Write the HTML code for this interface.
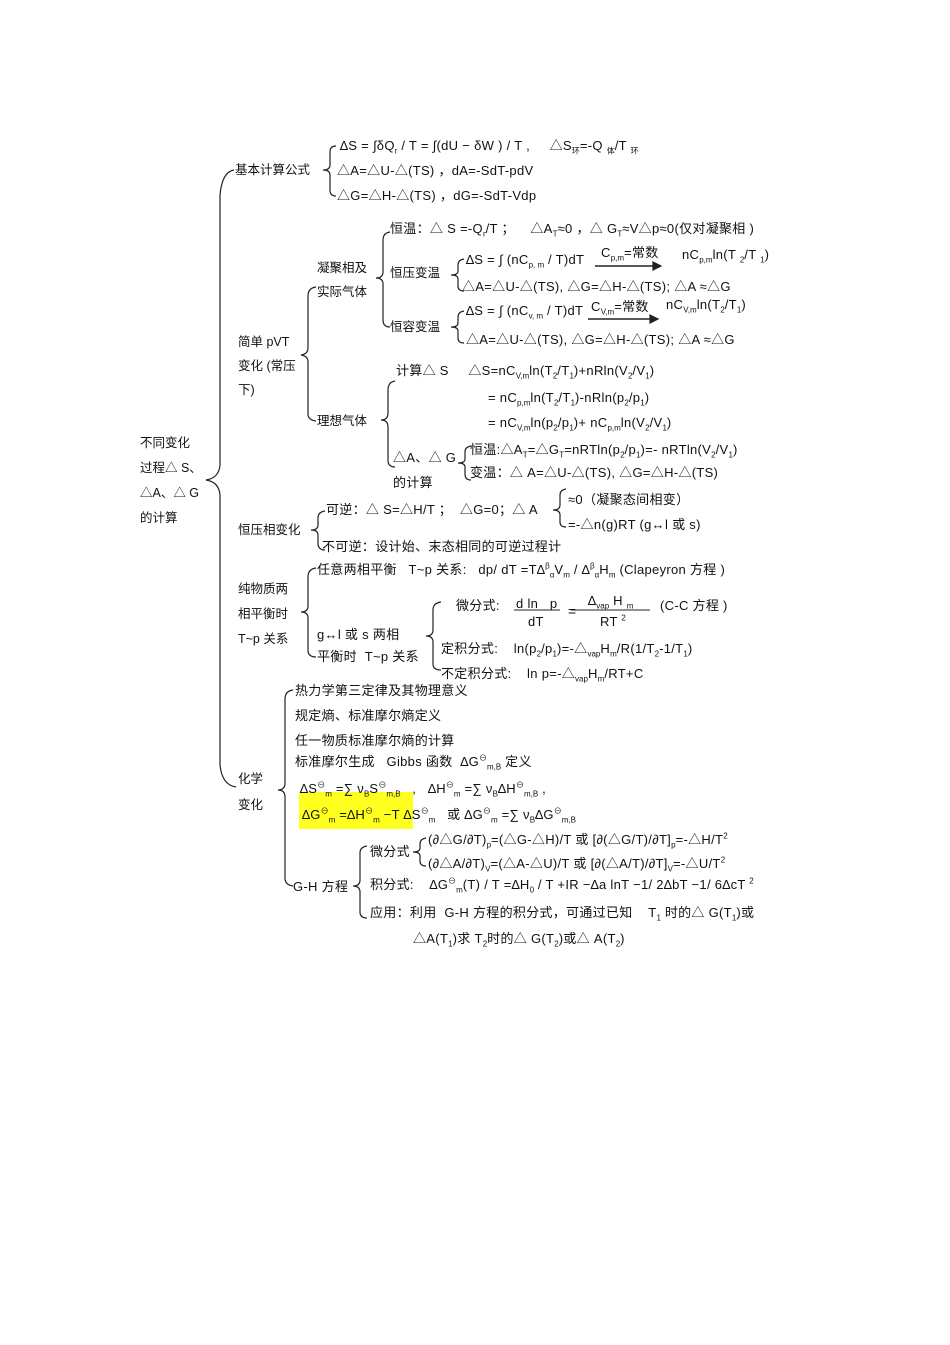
<!DOCTYPE html>
<html><head><meta charset="utf-8"><style>
body{margin:0;width:950px;height:1345px;background:#fff;position:relative;overflow:hidden;font-family:"Liberation Sans","Noto Sans CJK SC",sans-serif;color:#111}
.t{position:absolute;font-size:13px;letter-spacing:0.3px;white-space:nowrap;line-height:14px}
sub,sup{font-size:8px;line-height:0;letter-spacing:0}
svg{position:absolute;left:0;top:0}
.hl{position:absolute;left:299px;top:792px;width:114px;height:37px;background:#ffff20}
</style></head><body>
<div class="hl"></div>
<svg width="950" height="1345" fill="none" stroke="#222" stroke-width="1.2">
<path d="M234 170 Q222 172 220 195 L220 465 Q219 478 206 480 Q219 482 220 495 L220 765 Q222 785 236 787"/>
<path d="M336 146 Q330 146 330 152 L330 165 Q330 170 323 170 Q330 170 330 175 L330 190 Q330 196 336 196"/>
<path d="M316 287 Q308 288 308 296 L308 348 Q308 354 301 355 Q308 356 308 362 L308 414 Q308 420 316 421"/>
<path d="M390 232 Q383 233 383 240 L383 272 Q383 278 376 278 Q383 278 383 284 L383 320 Q383 327 390 327"/>
<path d="M464 259 Q458 260 458 265 L458 271 Q458 275 451 275 Q458 275 458 279 L458 286 Q458 291 464 291"/>
<path d="M464 311 Q458 312 458 317 L458 323 Q458 327 451 327 Q458 327 458 331 L458 338 Q458 343 464 343"/>
<path d="M395 381 Q388 382 388 390 L388 413 Q388 420 381 420 Q388 420 388 427 L388 460 Q388 467 395 467"/>
<path d="M471 446 Q465 447 465 452 L465 459 Q465 463 458 463 Q465 463 465 467 L465 474 Q465 480 471 480"/>
<path d="M325 511 Q318 512 318 518 L318 525 Q318 530 311 530 Q318 530 318 535 L318 543 Q318 550 325 550"/>
<path d="M566 489 Q560 490 560 495 L560 505 Q560 510 553 510 Q560 510 560 515 L560 522 Q560 527 566 527"/>
<path d="M316 568 Q308 569 308 577 L308 606 Q308 612 301 612 Q308 612 308 618 L308 650 Q308 657 316 657"/>
<path d="M441 602 Q433 603 433 610 L433 630 Q433 636 426 636 Q433 636 433 642 L433 664 Q433 670 441 670"/>
<path d="M293 690 Q285 691 285 699 L285 783 Q285 790 278 790 Q285 790 285 797 L285 878 Q285 885 293 886"/>
<path d="M367 846 Q360 847 360 853 L360 880 Q360 886 353 886 Q360 886 360 892 L360 912 Q360 918 367 918"/>
<path d="M426 838 Q420 839 420 844 L420 848 Q420 852 413 852 Q420 852 420 856 L420 861 Q420 866 426 866"/>
<path d="M595 266 L655 266" stroke-width="1.4"/><path d="M653 262 L661 266 L653 270Z" fill="#222"/>
<path d="M588 319 L652 319" stroke-width="1.4"/><path d="M650 315 L658 319 L650 323Z" fill="#222"/>
<path d="M514 610 L560 610 M571 610 L650 610" stroke-width="0.9"/>
</svg>

<div class="t" style="left:140px;top:431px;line-height:25px;font-size:12.5px;letter-spacing:0">不同变化<br>过程△ S、<br>△A、△ G<br>的计算</div>
<div class="t" style="left:235px;top:163px;font-size:12.5px;letter-spacing:0">基本计算公式</div>
<div class="t" style="left:340px;top:139px">∆S = ∫δQ<sub>r</sub> / T = ∫(dU − δW ) / T ,&nbsp;&nbsp;&nbsp;&nbsp; △S<sub>环</sub>=-Q <sub>体</sub>/T <sub>环</sub></div>
<div class="t" style="left:337px;top:164px">△A=△U-△(TS) ，dA=-SdT-pdV</div>
<div class="t" style="left:337px;top:189px">△G=△H-△(TS) ，dG=-SdT-Vdp</div>

<div class="t" style="left:238px;top:330px;line-height:24px;font-size:12.5px;letter-spacing:0">简单 pVT<br>变化 (常压<br>下)</div>
<div class="t" style="left:317px;top:256px;line-height:24px;font-size:12.5px;letter-spacing:0">凝聚相及<br>实际气体</div>
<div class="t" style="left:390px;top:222px">恒温：△ S =-Q<sub>r</sub>/T ；&nbsp;&nbsp;&nbsp; △A<sub>T</sub>≈0 ，△ G<sub>T</sub>≈V△p≈0(仅对凝聚相 )</div>
<div class="t" style="left:390px;top:266px;font-size:12.5px;letter-spacing:0">恒压变温</div>
<div class="t" style="left:466px;top:253px">∆S = ∫ (nC<sub>p, m</sub> / T)dT</div>
<div class="t" style="left:601px;top:246px">C<sub>p,m</sub>=常数</div>
<div class="t" style="left:682px;top:248px">nC<sub>p,m</sub>ln(T <sub>2</sub>/T <sub>1</sub>)</div>
<div class="t" style="left:462px;top:280px">△A=△U-△(TS), △G=△H-△(TS); △A ≈△G</div>
<div class="t" style="left:390px;top:320px;font-size:12.5px;letter-spacing:0">恒容变温</div>
<div class="t" style="left:466px;top:304px">∆S = ∫ (nC<sub>v, m</sub> / T)dT</div>
<div class="t" style="left:591px;top:300px">C<sub>V,m</sub>=常数</div>
<div class="t" style="left:666px;top:298px">nC<sub>V,m</sub>ln(T<sub>2</sub>/T<sub>1</sub>)</div>
<div class="t" style="left:466px;top:333px">△A=△U-△(TS), △G=△H-△(TS); △A ≈△G</div>

<div class="t" style="left:317px;top:414px;font-size:12.5px;letter-spacing:0">理想气体</div>
<div class="t" style="left:396px;top:364px">计算△ S&nbsp;&nbsp;&nbsp;&nbsp; △S=nC<sub>V,m</sub>ln(T<sub>2</sub>/T<sub>1</sub>)+nRln(V<sub>2</sub>/V<sub>1</sub>)</div>
<div class="t" style="left:488px;top:391px">= nC<sub>p,m</sub>ln(T<sub>2</sub>/T<sub>1</sub>)-nRln(p<sub>2</sub>/p<sub>1</sub>)</div>
<div class="t" style="left:488px;top:416px">= nC<sub>V,m</sub>ln(p<sub>2</sub>/p<sub>1</sub>)+ nC<sub>p,m</sub>ln(V<sub>2</sub>/V<sub>1</sub>)</div>
<div class="t" style="left:393px;top:445px;line-height:25px">△A、△ G<br>的计算</div>
<div class="t" style="left:470px;top:443px">恒温:△A<sub>T</sub>=△G<sub>T</sub>=nRTln(p<sub>2</sub>/p<sub>1</sub>)=- nRTln(V<sub>2</sub>/V<sub>1</sub>)</div>
<div class="t" style="left:470px;top:466px">变温：△ A=△U-△(TS), △G=△H-△(TS)</div>

<div class="t" style="left:238px;top:523px;font-size:12.5px;letter-spacing:0">恒压相变化</div>
<div class="t" style="left:326px;top:503px">可逆：△ S=△H/T ；&nbsp; △G=0；△ A</div>
<div class="t" style="left:568px;top:493px">≈0（凝聚态间相变）</div>
<div class="t" style="left:568px;top:518px">=-△n(g)RT (g↔l 或 s)</div>
<div class="t" style="left:322px;top:540px">不可逆：设计始、末态相同的可逆过程计</div>

<div class="t" style="left:238px;top:577px;line-height:25px;font-size:12.5px;letter-spacing:0">纯物质两<br>相平衡时<br>T~p 关系</div>
<div class="t" style="left:317px;top:563px">任意两相平衡&nbsp;&nbsp; T~p 关系:&nbsp;&nbsp; dp/ dT =T∆<sup>β</sup><sub>α</sub>V<sub>m</sub> / ∆<sup>β</sup><sub>α</sub>H<sub>m</sub> (Clapeyron 方程 )</div>
<div class="t" style="left:317px;top:624px;line-height:22px">g↔l 或 s 两相<br>平衡时&nbsp; T~p 关系</div>
<div class="t" style="left:456px;top:599px">微分式:</div>
<div class="t" style="left:516px;top:597px">d ln&nbsp;&nbsp; p</div>
<div class="t" style="left:528px;top:615px">dT</div>
<div class="t" style="left:568px;top:604px;font-size:14px">=</div>
<div class="t" style="left:588px;top:594px">∆<sub>vap</sub> H <sub>m</sub></div>
<div class="t" style="left:600px;top:615px">RT <sup>2</sup></div>
<div class="t" style="left:660px;top:599px">(C-C 方程 )</div>
<div class="t" style="left:441px;top:642px">定积分式:&nbsp;&nbsp;&nbsp; ln(p<sub>2</sub>/p<sub>1</sub>)=-△<sub>vap</sub>H<sub>m</sub>/R(1/T<sub>2</sub>-1/T<sub>1</sub>)</div>
<div class="t" style="left:441px;top:667px">不定积分式:&nbsp;&nbsp;&nbsp; ln p=-△<sub>vap</sub>H<sub>m</sub>/RT+C</div>

<div class="t" style="left:238px;top:766px;line-height:26px;font-size:12.5px;letter-spacing:0">化学<br>变化</div>
<div class="t" style="left:295px;top:684px">热力学第三定律及其物理意义</div>
<div class="t" style="left:295px;top:709px">规定熵、标准摩尔熵定义</div>
<div class="t" style="left:295px;top:734px">任一物质标准摩尔熵的计算</div>
<div class="t" style="left:295px;top:755px">标准摩尔生成&nbsp;&nbsp; Gibbs 函数&nbsp; ∆G<sup>⊖</sup><sub>m,B</sub> 定义</div>
<div class="t" style="left:300px;top:782px">∆S<sup>⊖</sup><sub>m</sub> =∑ ν<sub>B</sub>S<sup>⊖</sup><sub>m,B</sub>&nbsp;&nbsp; ,&nbsp;&nbsp; ∆H<sup>⊖</sup><sub>m</sub> =∑ ν<sub>B</sub>∆H<sup>⊖</sup><sub>m,B</sub> ,</div>
<div class="t" style="left:302px;top:808px">∆G<sup>⊖</sup><sub>m</sub> =∆H<sup>⊖</sup><sub>m</sub> −T ∆S<sup>⊖</sup><sub>m</sub>&nbsp;&nbsp; 或 ∆G<sup>⊖</sup><sub>m</sub> =∑ ν<sub>B</sub>∆G<sup>⊖</sup><sub>m,B</sub></div>
<div class="t" style="left:293px;top:880px">G-H 方程</div>
<div class="t" style="left:370px;top:845px">微分式</div>
<div class="t" style="left:428px;top:833px">(∂△G/∂T)<sub>p</sub>=(△G-△H)/T 或 [∂(△G/T)/∂T]<sub>p</sub>=-△H/T<sup>2</sup></div>
<div class="t" style="left:428px;top:857px">(∂△A/∂T)<sub>V</sub>=(△A-△U)/T 或 [∂(△A/T)/∂T]<sub>V</sub>=-△U/T<sup>2</sup></div>
<div class="t" style="left:370px;top:878px">积分式:&nbsp;&nbsp;&nbsp; ∆G<sup>⊖</sup><sub>m</sub>(T) / T =∆H<sub>0</sub> / T +IR −∆a lnT −1/ 2∆bT −1/ 6∆cT <sup>2</sup></div>
<div class="t" style="left:370px;top:906px">应用：利用&nbsp; G-H 方程的积分式，可通过已知&nbsp;&nbsp;&nbsp; T<sub>1</sub> 时的△ G(T<sub>1</sub>)或</div>
<div class="t" style="left:413px;top:932px">△A(T<sub>1</sub>)求 T<sub>2</sub>时的△ G(T<sub>2</sub>)或△ A(T<sub>2</sub>)</div>
</body></html>
